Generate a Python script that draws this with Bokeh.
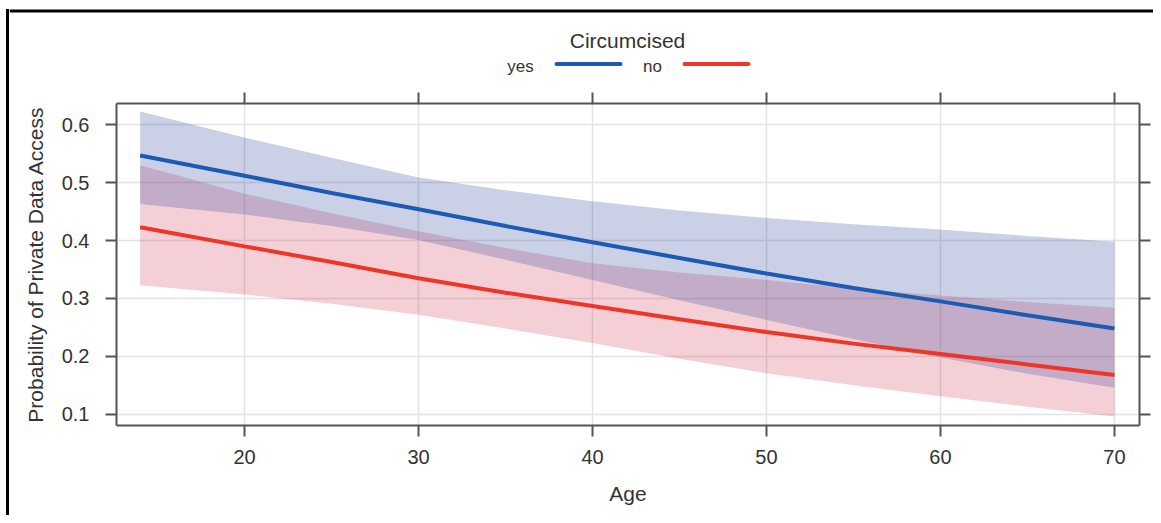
from bokeh.plotting import figure
from bokeh.models import (LinearAxis, FixedTicker, Range1d, Grid, CustomLabelingPolicy,
                          CustomJSTickFormatter, Spacer)
from bokeh.layouts import column, row
from bokeh.core.properties import value
from bokeh.embed import file_html
from bokeh.resources import INLINE

# ---- data ----
age = [14, 20, 25, 30, 35, 40, 45, 50, 55, 60, 65, 70]
yes_fit = [0.547, 0.512, 0.482, 0.454, 0.425, 0.397, 0.370, 0.343, 0.318, 0.295, 0.271, 0.248]
yes_upper = [0.623, 0.578, 0.543, 0.509, 0.487, 0.468, 0.452, 0.439, 0.428, 0.419, 0.408, 0.398]
yes_lower = [0.463, 0.445, 0.425, 0.401, 0.367, 0.332, 0.297, 0.263, 0.230, 0.198, 0.170, 0.146]
no_fit = [0.423, 0.390, 0.363, 0.335, 0.310, 0.287, 0.264, 0.242, 0.222, 0.204, 0.186, 0.168]
no_upper = [0.530, 0.481, 0.447, 0.416, 0.387, 0.361, 0.345, 0.332, 0.317, 0.305, 0.294, 0.284]
no_lower = [0.323, 0.307, 0.291, 0.272, 0.248, 0.223, 0.196, 0.171, 0.150, 0.131, 0.113, 0.096]
x_ticks = [20, 30, 40, 50, 60, 70]
y_ticks = [0.1, 0.2, 0.3, 0.4, 0.5, 0.6]
legend_title = "Circumcised"
legend_labels = ["yes", "no"]

BLUE = "#1c5bb3"
RED = "#ef3526"
BLUE_BAND = "#233f9b"
RED_BAND = "#d73753"
AXIS = "#555555"
TXT = "#333333"
FONT = "Liberation Sans"

# ---- layout sizes (pixels) ----
W, H = 1153, 515  # total size
GAP = 6           # space left of the picture frame
BW = 3            # frame line width
TOP = 9           # space above the picture frame
OFF = GAP + BW    # x offset of the figures
LH = 80           # legend strip height
FW = W - OFF      # figure width
MH = H - LH       # main figure height
ML, MR, MT, MB = 116 - OFF, 14, 103 - LH, 90
X0, X1 = 12.64, 71.44
Y0, Y1 = 0.0806, 0.6367

# ---- legend strip (title + key); coordinates are page pixels ----
leg = figure(width=FW, height=LH, output_backend="svg", toolbar_location=None,
             x_range=Range1d(OFF, W), y_range=Range1d(LH, 0),
             min_border_left=0, min_border_right=0, min_border_top=0, min_border_bottom=0)
leg.outline_line_color = None
leg.background_fill_color = "white"
leg.border_fill_color = "white"
leg.axis.visible = False
leg.grid.visible = False
leg.text(x=[627], y=[39.5], text=[legend_title], text_font=value(FONT),
         text_font_size=value("21px"), text_align="center", text_baseline="middle",
         text_color=TXT)
leg.text(x=[520, 652], y=[65.5, 65.5], text=legend_labels, text_font=value(FONT),
         text_font_size=value("17px"), text_align="center", text_baseline="middle",
         text_color=TXT)
leg.segment(x0=[556, 684], x1=[620, 748], y0=[63.5, 63.5], y1=[63.5, 63.5],
            line_color=[BLUE, RED], line_width=4, line_cap="round")
# picture frame: top edge
leg.segment(x0=[OFF], x1=[W], y0=[TOP + BW / 2], y1=[TOP + BW / 2],
            line_color="black", line_width=BW)

# ---- main plot ----
p = figure(width=FW, height=MH, output_backend="svg", toolbar_location=None,
           x_range=Range1d(X0, X1), y_range=Range1d(Y0, Y1),
           min_border_left=ML, min_border_right=MR, min_border_top=MT, min_border_bottom=MB,
           x_axis_location=None, y_axis_location=None)
p.outline_line_color = None
p.background_fill_color = "white"
p.border_fill_color = "white"

xt = FixedTicker(ticks=x_ticks)
yt = FixedTicker(ticks=y_ticks)

p.add_layout(Grid(dimension=0, ticker=xt, grid_line_color="#e3e3e3", grid_line_width=1.5))
p.add_layout(Grid(dimension=1, ticker=yt, grid_line_color="#e3e3e3", grid_line_width=1.5))

hide_all = CustomLabelingPolicy(code="""
for (const i of indices)
    indices.unset(i)
return indices
""")
blank = CustomJSTickFormatter(code="return ''")


def style_axis(ax, labels=True):
    ax.axis_line_color = AXIS
    ax.axis_line_width = 2
    ax.major_tick_line_color = AXIS
    ax.major_tick_line_width = 2
    ax.major_tick_out = 11
    ax.major_tick_in = 0
    ax.minor_tick_line_color = None
    ax.major_label_text_font = FONT
    ax.major_label_text_font_size = "20px"
    ax.major_label_text_color = TXT
    ax.axis_label_text_font = FONT
    ax.axis_label_text_font_size = "21px"
    ax.axis_label_text_color = TXT
    ax.axis_label_text_font_style = "normal"
    if not labels:
        ax.formatter = blank
        ax.major_label_policy = hide_all
        ax.major_label_standoff = 0


bottom = LinearAxis(ticker=xt, axis_label="Age")
style_axis(bottom)
bottom.major_label_standoff = 13
bottom.axis_label_standoff = 15
left = LinearAxis(ticker=yt, axis_label="Probability of Private Data Access")
style_axis(left)
left.major_label_standoff = 16
left.axis_label_standoff = 12
top = LinearAxis(ticker=xt)
style_axis(top, labels=False)
right = LinearAxis(ticker=yt)
style_axis(right, labels=False)
p.add_layout(bottom, "below")
p.add_layout(left, "left")
p.add_layout(top, "above")
p.add_layout(right, "right")

# confidence bands and fitted lines
p.varea(x=age, y1=no_lower, y2=no_upper, fill_color=RED_BAND, fill_alpha=0.24)
p.varea(x=age, y1=yes_lower, y2=yes_upper, fill_color=BLUE_BAND, fill_alpha=0.24)
p.line(x=age, y=yes_fit, line_color=BLUE, line_width=4)
p.line(x=age, y=no_fit, line_color=RED, line_width=4)

# picture frame: left edge as black strips beside each figure
BLACK = {"background-color": "black"}
top_row = row(Spacer(width=GAP, height=LH),
              column(Spacer(width=BW, height=TOP), Spacer(width=BW, height=LH - TOP, styles=BLACK)),
              leg)
main_row = row(Spacer(width=GAP, height=MH), Spacer(width=BW, height=MH, styles=BLACK), p)
layout = column(top_row, main_row)
open("out.html", "w").write(file_html(layout, INLINE))
